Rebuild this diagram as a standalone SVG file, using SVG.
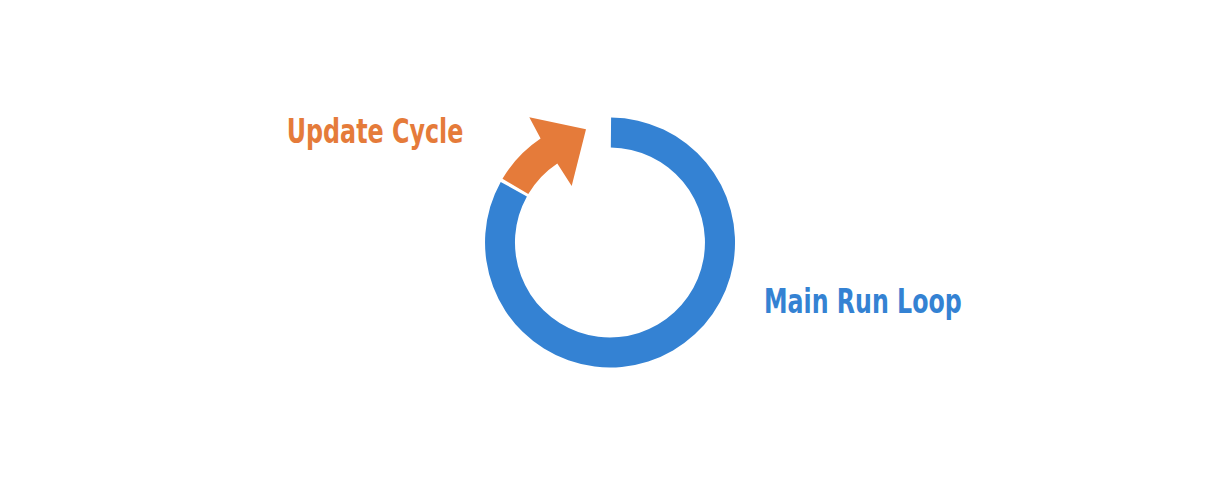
<svg xmlns="http://www.w3.org/2000/svg" width="1222" height="492" viewBox="0 0 1222 492">
  <style>
    .lbl { font-family: "DejaVu Sans Condensed", "Liberation Sans Narrow", Roboto, sans-serif; font-weight: bold; font-size: 34px; }
    .blue { fill: #3482D3; }
    .orange { fill: #E57B3A; }
  </style>
  <rect width="1222" height="492" fill="#FFFFFF"/>
  <g id="connectors">
    <path id="main-loop-ring" class="blue" d="M611.09,117.5 A125,125 0 1 1 500.7,181.9 L526.9,196.4 A95,95 0 1 0 610.83,147.5 Z"/>
    <path id="update-cycle-arrow" class="orange" d="M528.3,194 L502.5,178.7 A125,125 0 0 1 540.6,138.5 L529.3,117.3 L586,129.3 L571.7,186 L557.3,163.5 A95,95 0 0 0 528.3,194 Z"/>
  </g>
  <g id="update-cycle">
    <text class="lbl" x="286.7" y="142.7" fill="#E57B3A" textLength="176.6" lengthAdjust="spacingAndGlyphs">Update Cycle</text>
  </g>
  <g id="main-run-loop">
    <text class="lbl" x="764" y="313.3" fill="#3482D3" textLength="197.7" lengthAdjust="spacingAndGlyphs">Main Run Loop</text>
  </g>
</svg>
